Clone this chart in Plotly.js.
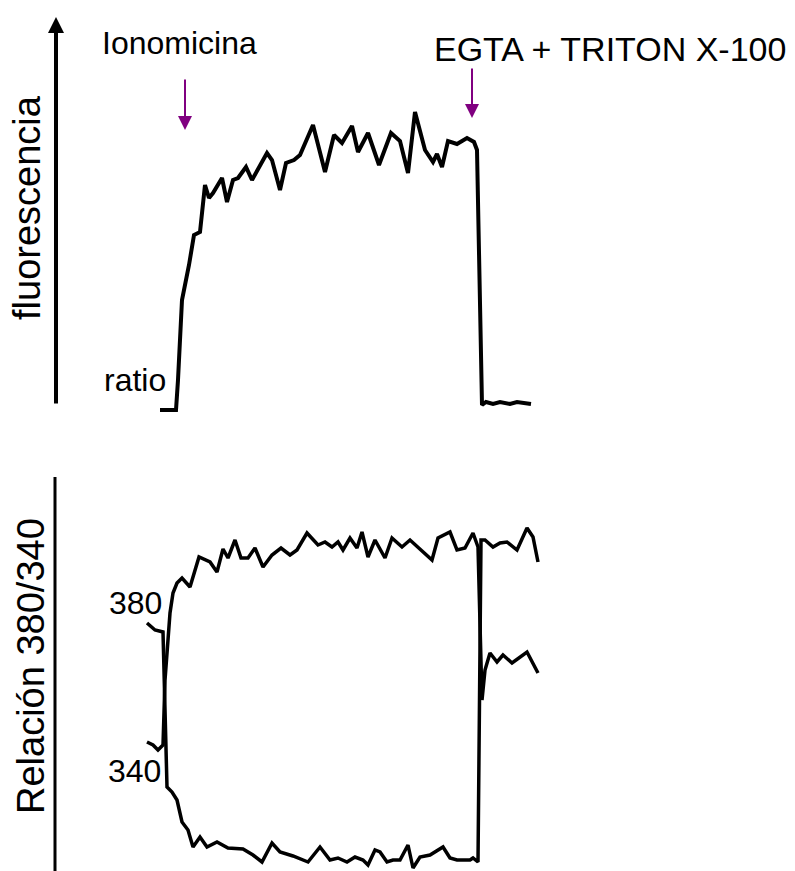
<!DOCTYPE html>
<html>
<head>
<meta charset="utf-8">
<script src="https://cdn.plot.ly/plotly-3.0.1.min.js"></script>
<style>
  html, body { margin: 0; padding: 0; background: #ffffff; }
  #chart { width: 795px; height: 871px; }
</style>
</head>
<body>
<div id="chart"></div>
<script>
// Time axis (arbitrary units) and traces.
// Upper panel: fluorescence ratio, measured above its resting baseline.
const ratioTime = [160, 176, 178, 182, 189, 194, 200, 203, 205, 209, 213, 222, 227, 233, 238, 246, 252, 267, 272, 280,
  286, 294, 300, 313, 325, 334, 342, 352, 358, 368, 379, 391, 400, 408, 415, 425, 433, 437, 442, 448,
  457, 467, 474, 477, 482, 486, 493, 500, 510, 517, 531];
const ratioValue = [0, 0, 30, 110, 145, 175, 178, 205, 225, 212, 217, 232, 208, 230, 232, 243, 230, 257, 250, 220,
  247, 250, 255, 285, 238, 275, 267, 284, 258, 277, 245, 277, 269, 237, 298, 260, 248, 256, 243, 269,
  266, 272, 268, 260, 5, 8, 6, 8, 6, 8, 6];

// Lower panel: single-wavelength signals (340 nm and 380 nm excitation).
const time340 = [147, 153, 158, 163, 165, 170, 173, 177, 182, 190, 199, 210, 217, 223, 228, 235, 241, 248, 255, 263,
  272, 281, 290, 297, 307, 318, 325, 332, 338, 343, 350, 357, 362, 368, 375, 385, 392, 402, 410, 432,
  438, 450, 457, 465, 473, 478, 482, 485, 490, 497, 503, 512, 527, 538];
const signal340 = [129, 126, 121, 126, 191, 258, 278, 288, 293, 284, 314, 309, 299, 322, 313, 331, 313, 313, 323, 304,
  316, 323, 316, 321, 338, 326, 329, 324, 329, 321, 333, 323, 339, 314, 331, 313, 333, 324, 331, 311,
  333, 339, 321, 323, 338, 324, 171, 201, 218, 209, 216, 208, 219, 198];

const time380 = [147, 155, 163, 165, 167, 172, 177, 182, 188, 193, 200, 207, 217, 228, 243, 253, 262, 272, 280, 293,
  303, 308, 320, 330, 338, 347, 355, 363, 368, 375, 380, 387, 393, 400, 408, 413, 420, 430, 443, 450,
  457, 463, 470, 473, 478, 481, 485, 493, 500, 507, 517, 527, 533, 538];
const signal380 = [248, 241, 239, 171, 84, 79, 71, 49, 41, 24, 34, 24, 29, 23, 22, 16, 9, 28, 19, 15,
  11, 9, 24, 11, 13, 9, 14, 11, 6, 21, 19, 9, 11, 11, 26, 3, 14, 16, 24, 13,
  11, 11, 11, 13, 9, 331, 331, 324, 328, 329, 321, 343, 334, 309];

const FONT = 'Arial, "Liberation Sans", sans-serif';
const PURPLE = '#800080';

const traces = [
  { x: ratioTime, y: ratioValue, xaxis: 'x', yaxis: 'y', mode: 'lines',
    line: { color: '#000000', width: 4, shape: 'linear' }, hoverinfo: 'skip', cliponaxis: false },
  { x: time340, y: signal340, xaxis: 'x', yaxis: 'y2', mode: 'lines',
    line: { color: '#000000', width: 3.5 }, hoverinfo: 'skip', cliponaxis: false },
  { x: time380, y: signal380, xaxis: 'x', yaxis: 'y2', mode: 'lines',
    line: { color: '#000000', width: 3.5 }, hoverinfo: 'skip', cliponaxis: false }
];

const hidden = { showgrid: false, zeroline: false, showticklabels: false, showline: false, ticks: '', fixedrange: true };

function label(text, x, y, size, extra) {
  return Object.assign({ text: text, x: x, y: y, xref: 'x', yref: 'y2', showarrow: false,
    xanchor: 'center', yanchor: 'middle', font: { family: FONT, size: size, color: '#000000' } }, extra || {});
}

function arrow(x, yTip, yTail, color, width, size) {
  return { text: '', x: x, y: yTip, ax: x, ay: yTail, xref: 'x', yref: 'y2', axref: 'x', ayref: 'y2',
    showarrow: true, arrowhead: 2, arrowsize: size, arrowwidth: width, arrowcolor: color, standoff: 0 };
}

const layout = {
  width: 795, height: 871,
  margin: { l: 0, r: 0, t: 0, b: 0 },
  paper_bgcolor: '#ffffff', plot_bgcolor: '#ffffff',
  showlegend: false,
  xaxis: Object.assign({ range: [0, 795], domain: [0, 1] }, hidden),
  yaxis: Object.assign({ range: [-461, 410], domain: [0, 1] }, hidden),
  yaxis2: Object.assign({ range: [0, 871], overlaying: 'y' }, hidden),
  shapes: [
    { type: 'line', xref: 'x', yref: 'y2', x0: 55, x1: 55, y0: 0, y1: 394,
      line: { color: '#000000', width: 3 } }
  ],
  annotations: [
    arrow(56, 854, 466, '#000000', 4, 0.8),
    arrow(185, 741, 793, PURPLE, 2, 1.4),
    arrow(472, 753, 804, PURPLE, 2, 1.4),
    label('Ionomicina', 179, 828, 32),
    label('EGTA + TRITON X-100', 610, 822, 34),
    label('fluorescencia', 27, 663, 38, { textangle: -90 }),
    label('Relación 380/340', 31, 205, 38, { textangle: -90 }),
    label('ratio', 135, 491, 32),
    label('380', 135, 268, 32),
    label('340', 134, 100, 32)
  ]
};

Plotly.newPlot('chart', traces, layout, { staticPlot: true, displayModeBar: false });
</script>
</body>
</html>
